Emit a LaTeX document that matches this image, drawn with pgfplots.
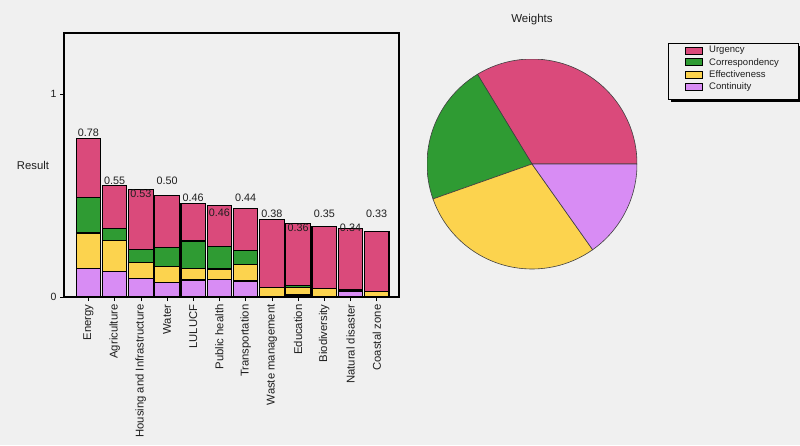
\documentclass[border=0pt]{standalone}
\usepackage{fontspec}
\setmainfont{Liberation Sans}
\usepackage{pgfplots}
\pgfplotsset{compat=1.18}
\usepackage{pgfplotstable}
\definecolor{bg}{HTML}{F0F0F0}
\definecolor{urg}{HTML}{DA4A7B}
\definecolor{cor}{HTML}{2F9B33}
\definecolor{eff}{HTML}{FCD34E}
\definecolor{con}{HTML}{D88CF4}
\definecolor{txt}{HTML}{1E1E1E}

% bar segments: Continuity, Effectiveness, Correspondency, Urgency
\pgfplotstableread{
x con eff cor urg
0 0.141 0.174 0.174 0.291
1 0.125 0.152 0.061 0.212
2 0.092 0.080 0.063 0.295
3 0.072 0.077 0.096 0.255
4 0.084 0.057 0.135 0.184
5 0.087 0.051 0.110 0.204
6 0.079 0.079 0.070 0.209
7 0.004 0.041 0.000 0.335
8 0.010 0.035 0.012 0.303
9 0.003 0.040 0.000 0.305
10 0.026 0.008 0.002 0.300
11 0.000 0.026 0.000 0.297
}\bars

% value labels and their heights
\pgfplotstableread{
x y lab
0 0.808 0.78
1 0.573 0.55
2 0.506 0.53
3 0.573 0.50
4 0.488 0.46
5 0.417 0.46
6 0.490 0.44
7 0.412 0.38
8 0.341 0.36
9 0.412 0.35
10 0.341 0.34
11 0.412 0.33
}\labs

% weights of the pie
\def\wU{0.337}
\def\wC{0.217}
\def\wE{0.294}
\def\wK{0.152}
\pgfmathsetmacro{\aA}{360*\wU}
\pgfmathsetmacro{\aB}{360*(\wU+\wC)}
\pgfmathsetmacro{\aC}{360*(\wU+\wC+\wE)}

\pgfplotsset{
  lg/.style={legend image code/.code={\draw[##1, line width=0.8pt] (0pt,-3.5pt) rectangle (17pt,3.5pt);}},
}

\begin{document}
\begin{tikzpicture}
\useasboundingbox (0pt,0pt) rectangle (800pt,-445pt);
\fill[bg] (0pt,0pt) rectangle (800pt,-445pt);

\begin{axis}[
  at={(64pt,-297pt)}, anchor=south west,
  scale only axis, width=335pt, height=264pt,
  ybar stacked, bar width=24.5pt,
  xmin=-0.93, xmax=11.85, ymin=0, ymax=1.30,
  axis line style={line width=1.3pt, black},
  axis background/.style={fill=bg},
  xtick={0,...,11},
  xticklabels={Energy,Agriculture,Housing and Infrastructure,Water,LULUCF,Public health,Transportation,Waste management,Education,Biodiversity,Natural disaster,Coastal zone},
  x tick label style={rotate=90, anchor=east, font=\fontsize{11.3}{13}\selectfont, text=txt},
  ytick={0,1},
  y tick label style={font=\fontsize{10.5}{12}\selectfont, text=txt},
  tick align=outside, xtick pos=left, ytick pos=left, major tick length=4pt,
  tick style={black, line width=0.6pt},
  /pgf/number format/assume math mode=true,
  ylabel={Result},
  ylabel style={rotate=-90, at={(axis description cs:-0.0925,0.5)}, anchor=center, font=\fontsize{11.3}{13}\selectfont, text=txt},
  reverse legend,
  legend cell align=left,
  legend style={at={(axis description cs:1.803,0.962)}, anchor=north west,
    name=legendbox,
    draw=black, line width=0.8pt, fill=bg,
    font=\fontsize{9.5}{11}\selectfont, text=txt,
    inner xsep=17pt, inner ysep=1pt, row sep=-0.3pt,
    /tikz/every odd column/.append style={column sep=4pt}},
]
\addlegendimage{empty legend}\addlegendentry{}
\addplot[fill=con, draw=black, line width=1.1pt, lg] table[x=x,y=con]{\bars};
\addlegendentry{Continuity}
\addplot[fill=eff, draw=black, line width=1.1pt, lg] table[x=x,y=eff]{\bars};
\addlegendentry{Effectiveness}
\addplot[fill=cor, draw=black, line width=1.1pt, lg] table[x=x,y=cor]{\bars};
\addlegendentry{Correspondency}
\addplot[fill=urg, draw=black, line width=1.1pt, lg] table[x=x,y=urg]{\bars};
\addlegendentry{Urgency}
\end{axis}
% drop shadow of the legend box
\fill[black] ([yshift=-3pt]legendbox.north east) rectangle ([xshift=3pt,yshift=-3pt]legendbox.south east);
\fill[black] ([xshift=3pt]legendbox.south west) rectangle ([xshift=3pt,yshift=-3pt]legendbox.south east);

\begin{axis}[
  at={(64pt,-297pt)}, anchor=south west,
  scale only axis, width=335pt, height=264pt,
  xmin=-0.93, xmax=11.85, ymin=0, ymax=1.30,
  hide axis,
]
\addplot[draw=none, nodes near coords, point meta=explicit symbolic,
  every node near coord/.style={anchor=center, font=\fontsize{10.8}{12}\selectfont, text=txt}]
  table[x=x, y=y, meta=lab]{\labs};
\end{axis}

\begin{axis}[
  at={(532pt,-164pt)}, anchor=center,
  scale only axis, width=210pt, height=210pt,
  xmin=-1, xmax=1, ymin=-1, ymax=1,
  hide axis,
  title={Weights},
  every axis title/.style={at={(axis description cs:0.5,1.186)}, anchor=center, font=\fontsize{11.5}{13}\selectfont, text=txt},
]
\filldraw[urg, draw=black!75, line width=0.6pt] (axis cs:0,0) -- ++(0:105pt) arc[start angle=0, end angle=\aA, radius=105pt] -- cycle;
\filldraw[cor, draw=black!75, line width=0.6pt] (axis cs:0,0) -- ++(\aA:105pt) arc[start angle=\aA, end angle=\aB, radius=105pt] -- cycle;
\filldraw[eff, draw=black!75, line width=0.6pt] (axis cs:0,0) -- ++(\aB:105pt) arc[start angle=\aB, end angle=\aC, radius=105pt] -- cycle;
\filldraw[con, draw=black!75, line width=0.6pt] (axis cs:0,0) -- ++(\aC:105pt) arc[start angle=\aC, end angle=360, radius=105pt] -- cycle;
\end{axis}
\end{tikzpicture}
\end{document}
